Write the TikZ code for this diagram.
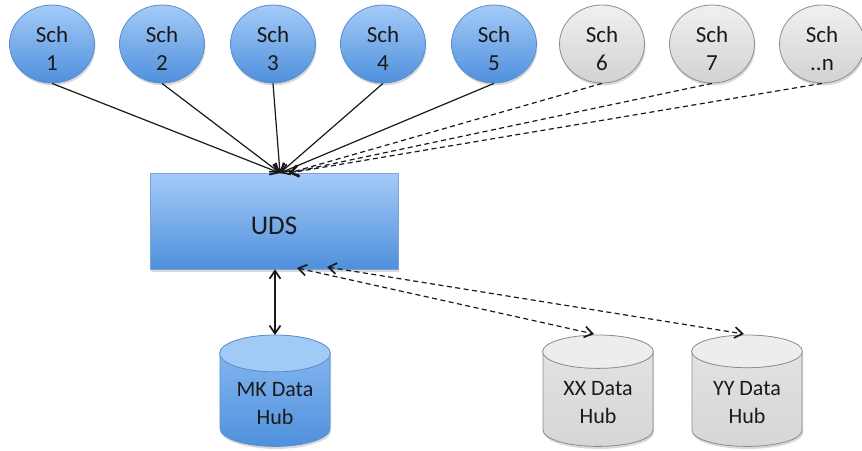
\documentclass[tikz,border=0pt]{standalone}
\usepackage{fontspec}
\setmainfont{Carlito}
\usetikzlibrary{arrows.meta,shapes.geometric,shadows,calc}
\definecolor{bluetop}{HTML}{A4CBF8}
\definecolor{bluebot}{HTML}{4F90DC}
\definecolor{blueline}{HTML}{5A8CCC}
\definecolor{blueend}{HTML}{A2CAF6}
\definecolor{hubbtop}{HTML}{8CBCF2}
\definecolor{hubbbot}{HTML}{4F91DD}
\definecolor{graytop}{HTML}{F0F0F0}
\definecolor{graybot}{HTML}{D2D2D2}
\definecolor{grayline}{HTML}{8C8C8C}
\definecolor{grayend}{HTML}{EDEDED}
\definecolor{hubgtop}{HTML}{E4E4E4}
\definecolor{hubgbot}{HTML}{D6D6D6}
\definecolor{txt}{HTML}{1A1A1A}
\newcommand\upstrut[1]{\rule{0pt}{#1}}
\tikzset{
  myshadow/.style={drop shadow={opacity=0.3, shadow xshift=1pt, shadow yshift=-2.5pt}},
  sch/.style={ellipse, minimum width=85pt, minimum height=78pt, inner sep=0pt,
    align=center, text=txt, font=\fontsize{23}{28}\selectfont, myshadow},
  schb/.style={sch, draw=blueline, line width=0.8pt, top color=bluetop, bottom color=bluebot},
  schg/.style={sch, draw=grayline, line width=0.8pt, top color=graytop, bottom color=graybot},
  hub/.style={cylinder, shape border rotate=90, aspect=0.47, minimum width=110pt,
    minimum height=111pt, inner sep=0pt, align=center, text=txt, anchor=north,
    font=\fontsize{22}{28}\selectfont, line width=0.8pt, myshadow},
  hubb/.style={hub, draw=blueline, top color=hubbtop, bottom color=hubbbot},
  hubg/.style={hub, draw=grayline, top color=hubgtop, bottom color=hubgbot},
  conn/.style={line width=1.2pt, black!90},
  dsh/.style={dashed, dash pattern=on 5pt off 3.5pt},
  >={Straight Barb[length=8pt,width=11pt,line width=1.7pt]}
}
\begin{document}
\begin{tikzpicture}[x=1pt,y=-1pt]
\useasboundingbox (0,0) rectangle (862,450);
\node[schb] (s1) at (52,44) {\upstrut{25pt}Sch\\1};
\node[schb] (s2) at (162,44) {\upstrut{25pt}Sch\\2};
\node[schb] (s3) at (273,44) {\upstrut{25pt}Sch\\3};
\node[schb] (s4) at (383,44) {\upstrut{25pt}Sch\\4};
\node[schb] (s5) at (494,44) {\upstrut{25pt}Sch\\5};
\node[schg] (s6) at (602,44) {\upstrut{25pt}Sch\\6};
\node[schg] (s7) at (712,44) {\upstrut{25pt}Sch\\7};
\node[schg] (sn) at (822,44) {\upstrut{25pt}Sch\\..n};

\node[draw=blueline!80!white, line width=0.6pt, top color=bluetop, bottom color=bluebot,
  minimum width=248pt, minimum height=96pt, inner sep=0pt, text=txt,
  font=\fontsize{27}{32}\selectfont, myshadow] (uds) at (274,221) {\upstrut{27pt}UDS};

\node[hubb] (mk) at (275,335) {\upstrut{21pt}MK Data\\Hub};
\node[hubg] (xx) at (598,335) {\upstrut{21pt}XX Data\\Hub};
\node[hubg] (yy) at (747,335) {\upstrut{21pt}YY Data\\Hub};

\path[fill=blueend, draw=blueline, line width=0.8pt]
  let \p1=(mk.before top), \p2=(mk.after top), \p3=(mk.top) in
  ($(\p1)!0.5!(\p2)$) ellipse [x radius={veclen(\x2-\x1,\y2-\y1)/2}, y radius={abs(\y3-\y1)}];
\path[fill=grayend, draw=grayline, line width=0.8pt]
  let \p1=(xx.before top), \p2=(xx.after top), \p3=(xx.top) in
  ($(\p1)!0.5!(\p2)$) ellipse [x radius={veclen(\x2-\x1,\y2-\y1)/2}, y radius={abs(\y3-\y1)}];
\path[fill=grayend, draw=grayline, line width=0.8pt]
  let \p1=(yy.before top), \p2=(yy.after top), \p3=(yy.top) in
  ($(\p1)!0.5!(\p2)$) ellipse [x radius={veclen(\x2-\x1,\y2-\y1)/2}, y radius={abs(\y3-\y1)}];

\coordinate (in1) at (280,173);
\coordinate (in2) at (289,173);
\coordinate (o1) at (297,268);
\coordinate (o2) at (327,267);
\coordinate (t1) at (594,334);
\coordinate (t2) at (744,334);

\foreach \s in {s1,s2,s3,s4,s5}
  \draw[conn,->] (\s.south) -- (in1);
\foreach \s in {s6,s7,sn}
  \draw[conn,->,dsh] (\s.south) -- (in2);

\draw[conn,<->] (uds.south -| mk.north) -- (mk.north);
\draw[conn,<->,dsh] (o1) -- (t1);
\draw[conn,<->,dsh] (o2) -- (t2);
\end{tikzpicture}
\end{document}
